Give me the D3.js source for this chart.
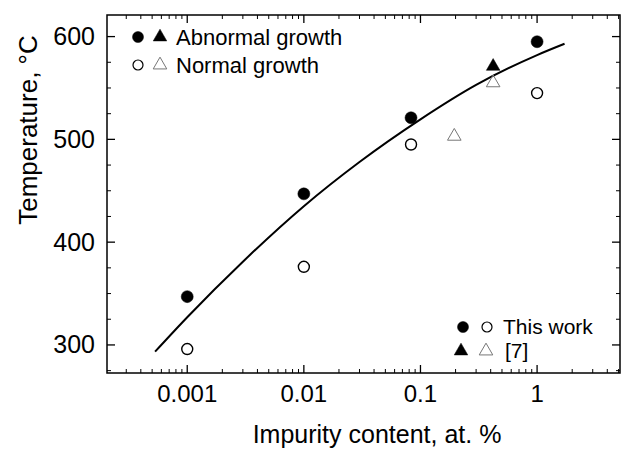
<!DOCTYPE html>
<html><head><meta charset="utf-8">
<script src="https://cdn.jsdelivr.net/npm/d3@7"></script>
<style>
html,body{margin:0;padding:0;background:#fff;}
svg text{font-family:"Liberation Sans",Arial,sans-serif;fill:#000;}
</style></head>
<body><svg id="c" width="624" height="450"></svg>
<script>
// Data
const abnormalThisX = [0.001, 0.01, 0.083, 1];
const abnormalThisT = [347, 447, 521, 595];
const normalThisX = [0.001, 0.01, 0.083, 1];
const normalThisT = [296, 376, 495, 545];
const abnormalRefX = [0.42];
const abnormalRefT = [571];
const normalRefX = [0.195, 0.42];
const normalRefT = [503, 555];
const fitX = [0.00053, 0.001, 0.003, 0.01, 0.03, 0.1, 0.3, 1, 1.72];
const fitT = [293.5, 327, 381, 435, 478, 519.5, 553, 582, 593];
const xTickValues = [0.001, 0.01, 0.1, 1];
const xTickLabels = ["0.001", "0.01", "0.1", "1"];
const yTickValues = [300, 400, 500, 600];

const svg = d3.select("#c");
const L = 107, R = 620, T = 15, B = 373;
const x = d3.scaleLog().domain([Math.pow(10, -3.688), Math.pow(10, 0.711)]).range([L, R]);
const y = d3.scaleLinear().domain([272.7, 621]).range([B, T]);

// frame
svg.append("rect").attr("x", L).attr("y", T).attr("width", R - L).attr("height", B - T)
  .attr("fill", "none").attr("stroke", "#000").attr("stroke-width", 1.5);

// x ticks (major + minor, inward, bottom & top)
const xMinor = [];
for (let e = -4; e <= 0; e++) for (let k = 2; k <= 9; k++) {
  const v = k * Math.pow(10, e);
  if (x(v) > L + 1 && x(v) < R - 1) xMinor.push(v);
}
const gx = svg.append("g");
gx.selectAll("line.mj").data(xTickValues).join("line").attr("class", "mj")
  .attr("x1", d => x(d)).attr("x2", d => x(d)).attr("y1", B).attr("y2", B - 8)
  .attr("stroke", "#000").attr("stroke-width", 1.3);
gx.selectAll("line.mn").data(xMinor).join("line").attr("class", "mn")
  .attr("x1", d => x(d)).attr("x2", d => x(d)).attr("y1", B).attr("y2", B - 4)
  .attr("stroke", "#000").attr("stroke-width", 1);
gx.selectAll("line.tmj").data(xTickValues).join("line").attr("class", "tmj")
  .attr("x1", d => x(d)).attr("x2", d => x(d)).attr("y1", T).attr("y2", T + 8)
  .attr("stroke", "#000").attr("stroke-width", 1.3);
gx.selectAll("line.tmn").data(xMinor).join("line").attr("class", "tmn")
  .attr("x1", d => x(d)).attr("x2", d => x(d)).attr("y1", T).attr("y2", T + 4)
  .attr("stroke", "#000").attr("stroke-width", 1);
gx.selectAll("text").data(xTickValues).join("text")
  .attr("x", d => x(d)).attr("y", 402).attr("text-anchor", "middle")
  .attr("font-size", 24).text((d, i) => xTickLabels[i]);

// y ticks
const yMinor = d3.range(275, 625, 25).filter(v => yTickValues.indexOf(v) < 0);
const gy = svg.append("g");
gy.selectAll("line.mj").data(yTickValues).join("line").attr("class", "mj")
  .attr("x1", L).attr("x2", L + 8).attr("y1", d => y(d)).attr("y2", d => y(d))
  .attr("stroke", "#000").attr("stroke-width", 1.3);
gy.selectAll("line.mn").data(yMinor).join("line").attr("class", "mn")
  .attr("x1", L).attr("x2", L + 4).attr("y1", d => y(d)).attr("y2", d => y(d))
  .attr("stroke", "#000").attr("stroke-width", 1);
gy.selectAll("line.rmj").data(yTickValues).join("line").attr("class", "rmj")
  .attr("x1", R).attr("x2", R - 8).attr("y1", d => y(d)).attr("y2", d => y(d))
  .attr("stroke", "#000").attr("stroke-width", 1.3);
gy.selectAll("line.rmn").data(yMinor).join("line").attr("class", "rmn")
  .attr("x1", R).attr("x2", R - 4).attr("y1", d => y(d)).attr("y2", d => y(d))
  .attr("stroke", "#000").attr("stroke-width", 1);
gy.selectAll("text").data(yTickValues).join("text")
  .attr("x", 95).attr("y", d => y(d) + 8.5).attr("text-anchor", "end")
  .attr("font-size", 25).text(d => d);

// axis titles
svg.append("text").attr("x", 377).attr("y", 443).attr("text-anchor", "middle")
  .attr("font-size", 25).text("Impurity content, at. %");
svg.append("text").attr("transform", "translate(37,130) rotate(-90)")
  .attr("text-anchor", "middle").attr("font-size", 26).text("Temperature, °C");

// fit curve
const line = d3.line().x(d => x(d[0])).y(d => y(d[1])).curve(d3.curveMonotoneX);
svg.append("path").datum(fitX.map((v, i) => [v, fitT[i]])).attr("d", line)
  .attr("fill", "none").attr("stroke", "#000").attr("stroke-width", 2);

// markers
const tri = d3.symbol().type(d3.symbolTriangle).size(80);
function circles(xs, ts, filled) {
  svg.append("g").selectAll("circle").data(xs).join("circle")
    .attr("cx", d => x(d)).attr("cy", (d, i) => y(ts[i])).attr("r", filled ? 6 : 5.5)
    .attr("fill", filled ? "#000" : "#fff").attr("stroke", "#000").attr("stroke-width", filled ? 0.5 : 1.4);
}
function tris(xs, ts, filled) {
  svg.append("g").selectAll("path").data(xs).join("path")
    .attr("d", tri).attr("transform", (d, i) => `translate(${x(d)},${y(ts[i])})`)
    .attr("fill", filled ? "#000" : "none").attr("stroke", filled ? "#000" : "#777")
    .attr("stroke-width", filled ? 0.5 : 1);
}
circles(abnormalThisX, abnormalThisT, true);
circles(normalThisX, normalThisT, false);
tris(abnormalRefX, abnormalRefT, true);
tris(normalRefX, normalRefT, false);

// legends
function legCircle(cx, cy, filled) {
  svg.append("circle").attr("cx", cx).attr("cy", cy).attr("r", filled ? 5.5 : 5)
    .attr("fill", filled ? "#000" : "#fff").attr("stroke", "#000").attr("stroke-width", filled ? 0.5 : 1.2);
}
function legTri(cx, cy, filled) {
  svg.append("path").attr("d", tri).attr("transform", `translate(${cx},${cy})`)
    .attr("fill", filled ? "#000" : "none").attr("stroke", filled ? "#000" : "#777")
    .attr("stroke-width", filled ? 0.5 : 1);
}
legCircle(138, 37, true); legTri(160, 37, true);
svg.append("text").attr("x", 176).attr("y", 45).attr("font-size", 22).text("Abnormal growth");
legCircle(138, 65, false); legTri(160, 65, false);
svg.append("text").attr("x", 176).attr("y", 73).attr("font-size", 22).text("Normal growth");

legCircle(463, 327, true); legCircle(487, 327, false);
svg.append("text").attr("x", 503).attr("y", 334).attr("font-size", 21).text("This work");
legTri(461, 351, true); legTri(486, 351, false);
svg.append("text").attr("x", 505).attr("y", 358).attr("font-size", 21).text("[7]");
</script></body></html>
